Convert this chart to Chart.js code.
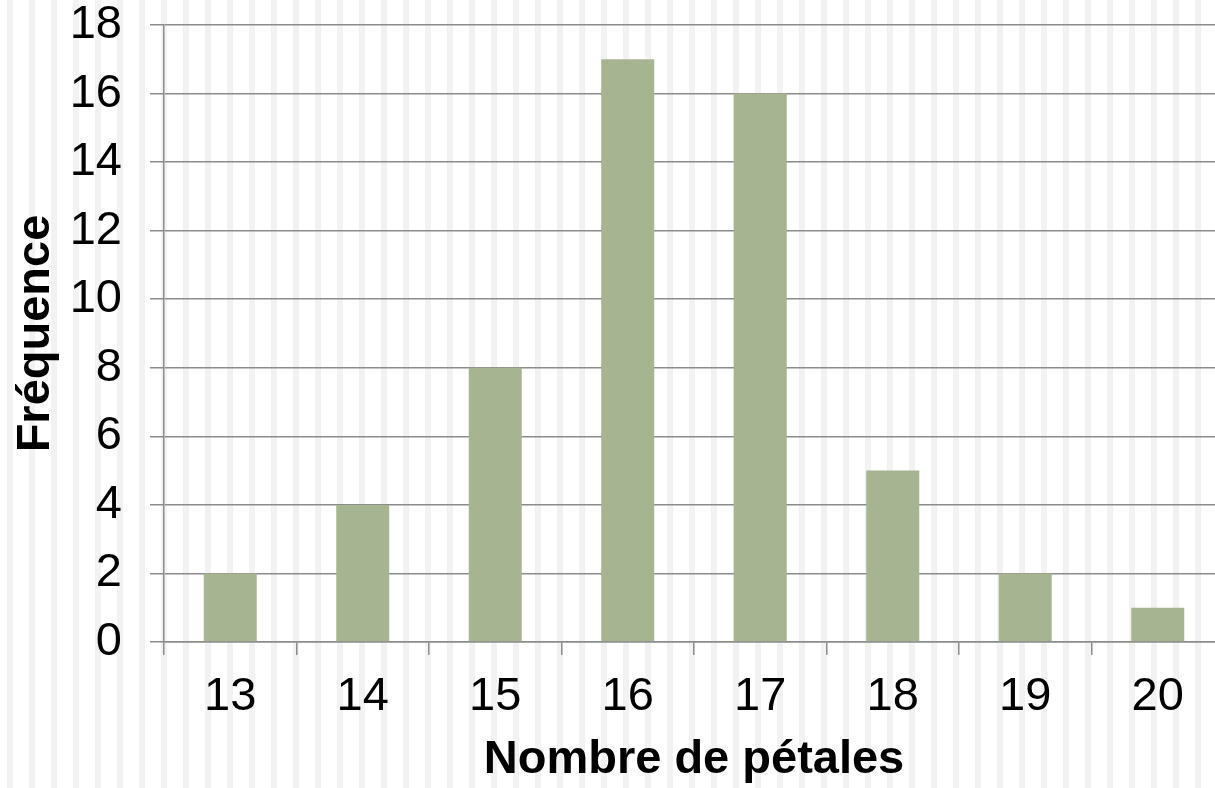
<!DOCTYPE html>
<html>
<head>
<meta charset="utf-8">
<script src="https://cdn.jsdelivr.net/npm/chart.js@4/dist/chart.umd.min.js"></script>
<style>
html, body { margin:0; padding:0; width:1215px; height:788px; overflow:hidden; }
body {
  background: repeating-linear-gradient(to right, #ffffff 0px, #ffffff 7px, #f2f2f2 7px, #f2f2f2 13px, #ffffff 13px, #ffffff 22px);
}
#wrap { position:absolute; left:0; top:0; width:1224px; height:788px; }
</style>
</head>
<body>
<div id="wrap"><canvas id="c"></canvas></div>
<script>
const categories = ['13', '14', '15', '16', '17', '18', '19', '20'];
const frequencies = [2, 4, 8, 17, 16, 5, 2, 1];
const yTickMax = 18;
const yTickStep = 2;
const xTitle = 'Nombre de pétales';
const yTitle = 'Fréquence';

const axisColor = '#8c8c8c';
const fontFamily = '"Liberation Sans", Arial, sans-serif';

new Chart(document.getElementById('c'), {
  type: 'bar',
  data: {
    labels: categories,
    datasets: [{
      data: frequencies,
      backgroundColor: '#a6b491',
      borderWidth: 0,
      barPercentage: 0.4,
      categoryPercentage: 1.0
    }]
  },
  options: {
    responsive: true,
    maintainAspectRatio: false,
    animation: false,
    layout: { padding: { top: 25, right: 0, left: 0, bottom: 0 } },
    plugins: { legend: { display: false }, tooltip: { enabled: false } },
    scales: {
      x: {
        offset: true,
        grid: { display: true, drawOnChartArea: false, drawTicks: true, tickLength: 13, color: axisColor, lineWidth: 1.5, offset: true },
        border: { display: true, color: axisColor, width: 1.5 },
        ticks: { color: '#000', font: { family: fontFamily, size: 47 }, padding: 14, maxRotation: 0 },
        title: { display: true, text: xTitle, color: '#000', font: { family: fontFamily, size: 47, weight: 'bold' }, padding: { top: 0, bottom: 0 } },
        afterFit: (s) => { s.height = 146; s.paddingLeft = 0; s.paddingRight = 0; }
      },
      y: {
        min: 0, max: yTickMax,
        grid: { color: axisColor, lineWidth: 1.5, tickLength: 14 },
        border: { display: true, color: axisColor, width: 1.5 },
        ticks: { stepSize: yTickStep, color: '#000', font: { family: fontFamily, size: 47 }, padding: 28 },
        title: { display: true, text: yTitle, color: '#000', font: { family: fontFamily, size: 47, weight: 'bold' }, padding: { top: 8, bottom: 0 } },
        afterFit: (s) => { s.width = 164; s.paddingTop = 0; s.paddingBottom = 0; }
      }
    }
  }
});
</script>
</body>
</html>
